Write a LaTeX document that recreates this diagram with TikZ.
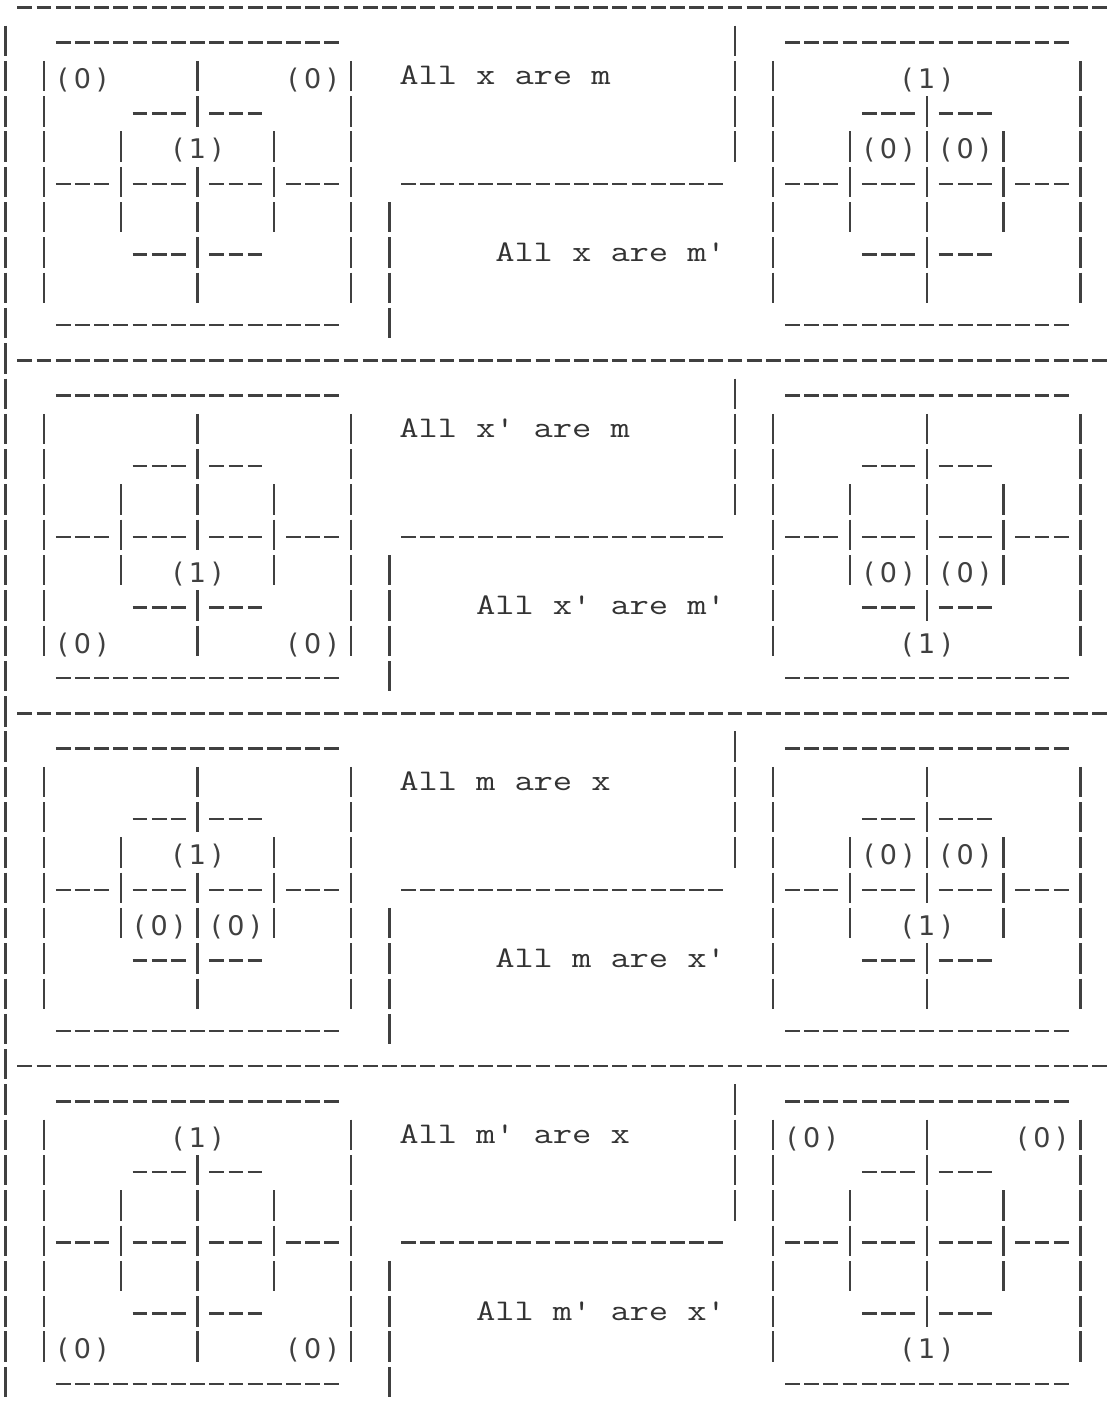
\documentclass[tikz,border=0pt]{standalone}
\usepackage{fontspec}
\newfontfamily\valfont{DejaVu Sans}
\tikzset{
  rule/.style={line width=1.25pt,black!75,dash pattern=on 7.4pt off 2.195pt},
  bar/.style={line width=1.15pt,black!75,dash pattern=on 15.17pt off 2.475pt},
  val/.style={anchor=base,inner sep=0pt,text=black!75,font=\valfont\fontsize{13.5pt}{13.5pt}\selectfont},
  stmt/.style={anchor=base west,inner sep=0pt,text=black!80,font=\ttfamily\fontsize{15pt}{15pt}\selectfont}
}
% one cell = one character of the grid
\makeatletter
\newcommand\gridtext[1]{\@tfor\gridch:=#1\do{\makebox[9.595pt]{\scalebox{1.25}[1]{\gridch}}}}
\makeatother
\newcommand\dashrun[3]{\draw[rule] ({#1-0.385},#3) -- ({#2+0.385},#3);}
\newcommand\piperun[3]{\draw[bar] (#1,{#2-0.485}) -- (#1,{#3+0.375});}
\newcommand\cellval[4]{\node[val] (#1) at (#2,{#3+0.292}) {\makebox[28.785pt]{\makebox[9.595pt]{(}\makebox[9.595pt]{#4}\makebox[9.595pt]{)}}};}
% frame of one diagram, local cols 0..16, rows 0..8
\newcommand\vennframe{%
  \dashrun{1}{15}{0} \dashrun{1}{15}{8}
  \foreach \c in {1,5,9,13} {\dashrun{\c}{\c+2}{4}}
  \foreach \y in {2,6} {\dashrun{5}{7}{\y} \dashrun{9}{11}{\y}}
  \piperun{0}{1}{7} \piperun{16}{1}{7} \piperun{4}{3}{5} \piperun{12}{3}{5}
  \foreach \y in {2,4,6} {\piperun{8}{\y}{\y}}}
\newcommand\cellbar[1]{\piperun{8}{#1}{#1}}
\newcommand\cellone[2]{\cellval{#1}{8}{#2}{1}}
\newcommand\zerosout[2]{\cellbar{#2} \cellval{#1a}{2}{#2}{0} \cellval{#1b}{14}{#2}{0}}
\newcommand\zerosin[2]{\cellbar{#2} \cellval{#1a}{6}{#2}{0} \cellval{#1b}{10}{#2}{0}}
\begin{document}
\begin{tikzpicture}[x=9.595pt,y=-17.645pt]
\useasboundingbox (-0.292,-0.21) rectangle (57.81,39.91);
% outer grid
\foreach \r in {0,10,20,30} {\dashrun{1}{57}{\r}}
\piperun{0}{1}{39}
\foreach \r in {0,10,20,30} {\piperun{38}{\r+1}{\r+4} \dashrun{21}{37}{\r+5} \piperun{20}{\r+6}{\r+9}}
% statements
\node[stmt] (s0a) at (20.5,2.198) {\gridtext{All~x~are~m}};
\node[stmt] (s0b) at (25.5,7.198) {\gridtext{All~x~are~m'}};
\node[stmt] (s1a) at (20.5,12.198) {\gridtext{All~x'~are~m}};
\node[stmt] (s1b) at (24.5,17.198) {\gridtext{All~x'~are~m'}};
\node[stmt] (s2a) at (20.5,22.198) {\gridtext{All~m~are~x}};
\node[stmt] (s2b) at (25.5,27.198) {\gridtext{All~m~are~x'}};
\node[stmt] (s3a) at (20.5,32.198) {\gridtext{All~m'~are~x}};
\node[stmt] (s3b) at (24.5,37.198) {\gridtext{All~m'~are~x'}};
% diagrams
\begin{scope}[shift={(2,1)}]
\vennframe \zerosout{s0l1}{1} \cellone{s0l3}{3} \cellbar{5} \cellbar{7}
\end{scope}
\begin{scope}[shift={(40,1)}]
\vennframe \cellone{s0r1}{1} \zerosin{s0r3}{3} \cellbar{5} \cellbar{7}
\end{scope}
\begin{scope}[shift={(2,11)}]
\vennframe \cellbar{1} \cellbar{3} \cellone{s1l5}{5} \zerosout{s1l7}{7}
\end{scope}
\begin{scope}[shift={(40,11)}]
\vennframe \cellbar{1} \cellbar{3} \zerosin{s1r5}{5} \cellone{s1r7}{7}
\end{scope}
\begin{scope}[shift={(2,21)}]
\vennframe \cellbar{1} \cellone{s2l3}{3} \zerosin{s2l5}{5} \cellbar{7}
\end{scope}
\begin{scope}[shift={(40,21)}]
\vennframe \cellbar{1} \zerosin{s2r3}{3} \cellone{s2r5}{5} \cellbar{7}
\end{scope}
\begin{scope}[shift={(2,31)}]
\vennframe \cellone{s3l1}{1} \cellbar{3} \cellbar{5} \zerosout{s3l7}{7}
\end{scope}
\begin{scope}[shift={(40,31)}]
\vennframe \zerosout{s3r1}{1} \cellbar{3} \cellbar{5} \cellone{s3r7}{7}
\end{scope}
\end{tikzpicture}
\end{document}
